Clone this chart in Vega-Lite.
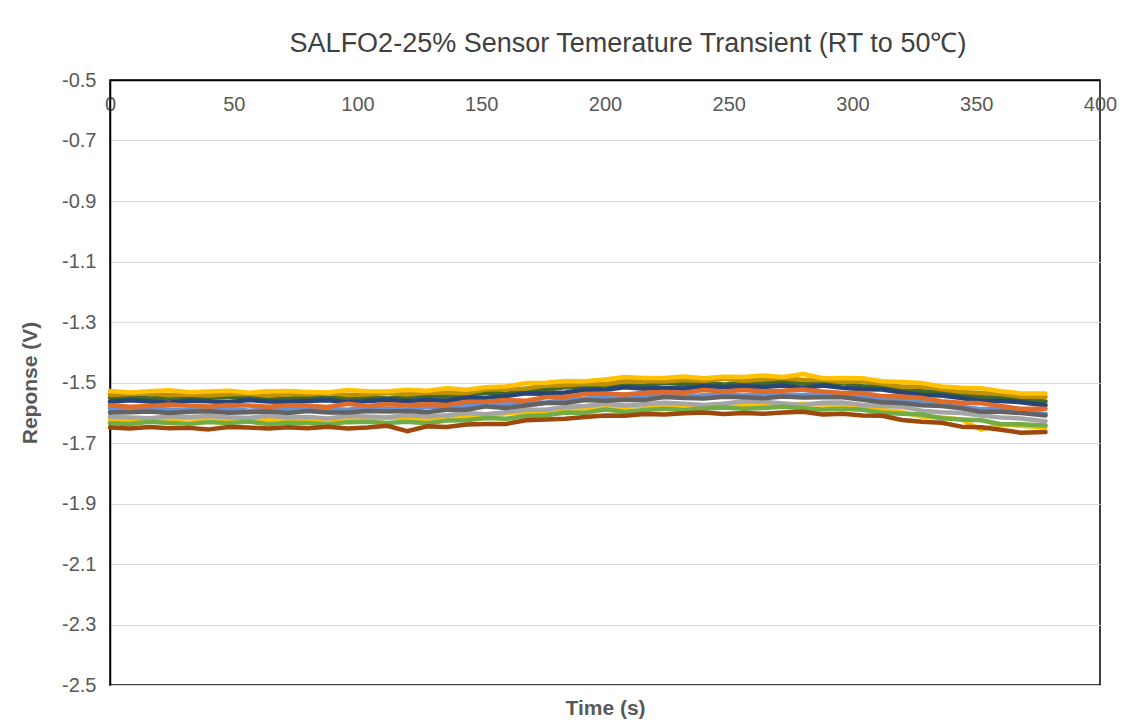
{
"$schema": "https://vega.github.io/schema/vega-lite/v6.json",
"width": 990,
"height": 605,
"autosize": {"type": "none"},
"padding": {"left": 110, "top": 80, "right": 39, "bottom": 41},
"background": "white",
"title": {"text": "SALFO2-25% Sensor Temerature Transient (RT to 50℃)", "font": "Liberation Sans", "fontSize": 27, "fontWeight": "normal", "color": "#404040", "anchor": "middle", "frame": "group", "dx": 23, "dy": 33, "offset": 24, "baseline": "alphabetic"},
"config": {
  "locale": {"number": {"decimal": ".", "thousands": ",", "grouping": [3], "currency": ["$", ""], "minus": "-"}},
  "view": {"stroke": "#000000", "strokeWidth": 1.5},
  "font": "Liberation Sans"
},
"datasets": {"d": [
{"s":"Y2","t":0,"v":-1.622},{"s":"Y2","t":8,"v":-1.625},{"s":"Y2","t":16,"v":-1.620},{"s":"Y2","t":24,"v":-1.623},{"s":"Y2","t":32,"v":-1.618},{"s":"Y2","t":40,"v":-1.624},{"s":"Y2","t":48,"v":-1.625},{"s":"Y2","t":56,"v":-1.621},{"s":"Y2","t":64,"v":-1.622},{"s":"Y2","t":72,"v":-1.619},{"s":"Y2","t":80,"v":-1.626},{"s":"Y2","t":88,"v":-1.623},{"s":"Y2","t":96,"v":-1.619},{"s":"Y2","t":104,"v":-1.623},{"s":"Y2","t":112,"v":-1.616},{"s":"Y2","t":120,"v":-1.619},{"s":"Y2","t":128,"v":-1.621},{"s":"Y2","t":136,"v":-1.614},{"s":"Y2","t":144,"v":-1.614},{"s":"Y2","t":152,"v":-1.614},{"s":"Y2","t":160,"v":-1.602},{"s":"Y2","t":168,"v":-1.600},{"s":"Y2","t":176,"v":-1.594},{"s":"Y2","t":184,"v":-1.594},{"s":"Y2","t":192,"v":-1.584},{"s":"Y2","t":200,"v":-1.586},{"s":"Y2","t":208,"v":-1.581},{"s":"Y2","t":216,"v":-1.576},{"s":"Y2","t":224,"v":-1.583},{"s":"Y2","t":232,"v":-1.575},{"s":"Y2","t":240,"v":-1.577},{"s":"Y2","t":248,"v":-1.570},{"s":"Y2","t":256,"v":-1.574},{"s":"Y2","t":264,"v":-1.572},{"s":"Y2","t":272,"v":-1.575},{"s":"Y2","t":280,"v":-1.570},{"s":"Y2","t":288,"v":-1.573},{"s":"Y2","t":296,"v":-1.581},{"s":"Y2","t":304,"v":-1.579},{"s":"Y2","t":312,"v":-1.591},{"s":"Y2","t":320,"v":-1.597},{"s":"Y2","t":328,"v":-1.613},{"s":"Y2","t":336,"v":-1.616},{"s":"Y2","t":344,"v":-1.622},{"s":"Y2","t":352,"v":-1.656},{"s":"Y2","t":360,"v":-1.638},{"s":"Y2","t":368,"v":-1.643},{"s":"Y2","t":378,"v":-1.649},
{"s":"Gr","t":0,"v":-1.613},{"s":"Gr","t":8,"v":-1.616},{"s":"Gr","t":16,"v":-1.618},{"s":"Gr","t":24,"v":-1.612},{"s":"Gr","t":32,"v":-1.614},{"s":"Gr","t":40,"v":-1.611},{"s":"Gr","t":48,"v":-1.615},{"s":"Gr","t":56,"v":-1.617},{"s":"Gr","t":64,"v":-1.610},{"s":"Gr","t":72,"v":-1.616},{"s":"Gr","t":80,"v":-1.614},{"s":"Gr","t":88,"v":-1.619},{"s":"Gr","t":96,"v":-1.611},{"s":"Gr","t":104,"v":-1.612},{"s":"Gr","t":112,"v":-1.615},{"s":"Gr","t":120,"v":-1.608},{"s":"Gr","t":128,"v":-1.612},{"s":"Gr","t":136,"v":-1.608},{"s":"Gr","t":144,"v":-1.601},{"s":"Gr","t":152,"v":-1.605},{"s":"Gr","t":160,"v":-1.598},{"s":"Gr","t":168,"v":-1.590},{"s":"Gr","t":176,"v":-1.590},{"s":"Gr","t":184,"v":-1.581},{"s":"Gr","t":192,"v":-1.578},{"s":"Gr","t":200,"v":-1.570},{"s":"Gr","t":208,"v":-1.576},{"s":"Gr","t":216,"v":-1.572},{"s":"Gr","t":224,"v":-1.567},{"s":"Gr","t":232,"v":-1.570},{"s":"Gr","t":240,"v":-1.574},{"s":"Gr","t":248,"v":-1.570},{"s":"Gr","t":256,"v":-1.562},{"s":"Gr","t":264,"v":-1.564},{"s":"Gr","t":272,"v":-1.569},{"s":"Gr","t":280,"v":-1.574},{"s":"Gr","t":288,"v":-1.567},{"s":"Gr","t":296,"v":-1.566},{"s":"Gr","t":304,"v":-1.574},{"s":"Gr","t":312,"v":-1.578},{"s":"Gr","t":320,"v":-1.580},{"s":"Gr","t":328,"v":-1.593},{"s":"Gr","t":336,"v":-1.598},{"s":"Gr","t":344,"v":-1.601},{"s":"Gr","t":352,"v":-1.609},{"s":"Gr","t":360,"v":-1.616},{"s":"Gr","t":368,"v":-1.619},{"s":"Gr","t":378,"v":-1.628},
{"s":"LB","t":0,"v":-1.586},{"s":"LB","t":8,"v":-1.590},{"s":"LB","t":16,"v":-1.587},{"s":"LB","t":24,"v":-1.589},{"s":"LB","t":32,"v":-1.591},{"s":"LB","t":40,"v":-1.588},{"s":"LB","t":48,"v":-1.586},{"s":"LB","t":56,"v":-1.593},{"s":"LB","t":64,"v":-1.589},{"s":"LB","t":72,"v":-1.587},{"s":"LB","t":80,"v":-1.592},{"s":"LB","t":88,"v":-1.588},{"s":"LB","t":96,"v":-1.590},{"s":"LB","t":104,"v":-1.583},{"s":"LB","t":112,"v":-1.587},{"s":"LB","t":120,"v":-1.589},{"s":"LB","t":128,"v":-1.581},{"s":"LB","t":136,"v":-1.584},{"s":"LB","t":144,"v":-1.578},{"s":"LB","t":152,"v":-1.578},{"s":"LB","t":160,"v":-1.571},{"s":"LB","t":168,"v":-1.564},{"s":"LB","t":176,"v":-1.567},{"s":"LB","t":184,"v":-1.557},{"s":"LB","t":192,"v":-1.554},{"s":"LB","t":200,"v":-1.547},{"s":"LB","t":208,"v":-1.550},{"s":"LB","t":216,"v":-1.545},{"s":"LB","t":224,"v":-1.540},{"s":"LB","t":232,"v":-1.547},{"s":"LB","t":240,"v":-1.542},{"s":"LB","t":248,"v":-1.539},{"s":"LB","t":256,"v":-1.543},{"s":"LB","t":264,"v":-1.536},{"s":"LB","t":272,"v":-1.540},{"s":"LB","t":280,"v":-1.541},{"s":"LB","t":288,"v":-1.536},{"s":"LB","t":296,"v":-1.544},{"s":"LB","t":304,"v":-1.546},{"s":"LB","t":312,"v":-1.557},{"s":"LB","t":320,"v":-1.557},{"s":"LB","t":328,"v":-1.565},{"s":"LB","t":336,"v":-1.576},{"s":"LB","t":344,"v":-1.580},{"s":"LB","t":352,"v":-1.588},{"s":"LB","t":360,"v":-1.588},{"s":"LB","t":368,"v":-1.595},{"s":"LB","t":378,"v":-1.604},
{"s":"DGr","t":0,"v":-1.599},{"s":"DGr","t":8,"v":-1.598},{"s":"DGr","t":16,"v":-1.596},{"s":"DGr","t":24,"v":-1.601},{"s":"DGr","t":32,"v":-1.597},{"s":"DGr","t":40,"v":-1.595},{"s":"DGr","t":48,"v":-1.600},{"s":"DGr","t":56,"v":-1.598},{"s":"DGr","t":64,"v":-1.596},{"s":"DGr","t":72,"v":-1.601},{"s":"DGr","t":80,"v":-1.594},{"s":"DGr","t":88,"v":-1.599},{"s":"DGr","t":96,"v":-1.599},{"s":"DGr","t":104,"v":-1.594},{"s":"DGr","t":112,"v":-1.596},{"s":"DGr","t":120,"v":-1.594},{"s":"DGr","t":128,"v":-1.598},{"s":"DGr","t":136,"v":-1.590},{"s":"DGr","t":144,"v":-1.590},{"s":"DGr","t":152,"v":-1.579},{"s":"DGr","t":160,"v":-1.584},{"s":"DGr","t":168,"v":-1.576},{"s":"DGr","t":176,"v":-1.568},{"s":"DGr","t":184,"v":-1.568},{"s":"DGr","t":192,"v":-1.558},{"s":"DGr","t":200,"v":-1.560},{"s":"DGr","t":208,"v":-1.557},{"s":"DGr","t":216,"v":-1.558},{"s":"DGr","t":224,"v":-1.548},{"s":"DGr","t":232,"v":-1.551},{"s":"DGr","t":240,"v":-1.553},{"s":"DGr","t":248,"v":-1.547},{"s":"DGr","t":256,"v":-1.549},{"s":"DGr","t":264,"v":-1.552},{"s":"DGr","t":272,"v":-1.546},{"s":"DGr","t":280,"v":-1.550},{"s":"DGr","t":288,"v":-1.549},{"s":"DGr","t":296,"v":-1.549},{"s":"DGr","t":304,"v":-1.557},{"s":"DGr","t":312,"v":-1.565},{"s":"DGr","t":320,"v":-1.568},{"s":"DGr","t":328,"v":-1.575},{"s":"DGr","t":336,"v":-1.578},{"s":"DGr","t":344,"v":-1.585},{"s":"DGr","t":352,"v":-1.597},{"s":"DGr","t":360,"v":-1.597},{"s":"DGr","t":368,"v":-1.601},{"s":"DGr","t":378,"v":-1.609},
{"s":"Gn","t":0,"v":-1.635},{"s":"Gn","t":8,"v":-1.637},{"s":"Gn","t":16,"v":-1.630},{"s":"Gn","t":24,"v":-1.634},{"s":"Gn","t":32,"v":-1.636},{"s":"Gn","t":40,"v":-1.631},{"s":"Gn","t":48,"v":-1.635},{"s":"Gn","t":56,"v":-1.629},{"s":"Gn","t":64,"v":-1.637},{"s":"Gn","t":72,"v":-1.633},{"s":"Gn","t":80,"v":-1.634},{"s":"Gn","t":88,"v":-1.638},{"s":"Gn","t":96,"v":-1.631},{"s":"Gn","t":104,"v":-1.630},{"s":"Gn","t":112,"v":-1.634},{"s":"Gn","t":120,"v":-1.630},{"s":"Gn","t":128,"v":-1.635},{"s":"Gn","t":136,"v":-1.626},{"s":"Gn","t":144,"v":-1.625},{"s":"Gn","t":152,"v":-1.617},{"s":"Gn","t":160,"v":-1.620},{"s":"Gn","t":168,"v":-1.611},{"s":"Gn","t":176,"v":-1.608},{"s":"Gn","t":184,"v":-1.599},{"s":"Gn","t":192,"v":-1.600},{"s":"Gn","t":200,"v":-1.589},{"s":"Gn","t":208,"v":-1.597},{"s":"Gn","t":216,"v":-1.591},{"s":"Gn","t":224,"v":-1.587},{"s":"Gn","t":232,"v":-1.591},{"s":"Gn","t":240,"v":-1.586},{"s":"Gn","t":248,"v":-1.583},{"s":"Gn","t":256,"v":-1.587},{"s":"Gn","t":264,"v":-1.584},{"s":"Gn","t":272,"v":-1.580},{"s":"Gn","t":280,"v":-1.585},{"s":"Gn","t":288,"v":-1.589},{"s":"Gn","t":296,"v":-1.587},{"s":"Gn","t":304,"v":-1.590},{"s":"Gn","t":312,"v":-1.600},{"s":"Gn","t":320,"v":-1.603},{"s":"Gn","t":328,"v":-1.606},{"s":"Gn","t":336,"v":-1.618},{"s":"Gn","t":344,"v":-1.622},{"s":"Gn","t":352,"v":-1.625},{"s":"Gn","t":360,"v":-1.638},{"s":"Gn","t":368,"v":-1.638},{"s":"Gn","t":378,"v":-1.642},
{"s":"DG","t":0,"v":-1.551},{"s":"DG","t":8,"v":-1.548},{"s":"DG","t":16,"v":-1.553},{"s":"DG","t":24,"v":-1.550},{"s":"DG","t":32,"v":-1.555},{"s":"DG","t":40,"v":-1.549},{"s":"DG","t":48,"v":-1.548},{"s":"DG","t":56,"v":-1.552},{"s":"DG","t":64,"v":-1.551},{"s":"DG","t":72,"v":-1.554},{"s":"DG","t":80,"v":-1.547},{"s":"DG","t":88,"v":-1.550},{"s":"DG","t":96,"v":-1.552},{"s":"DG","t":104,"v":-1.548},{"s":"DG","t":112,"v":-1.553},{"s":"DG","t":120,"v":-1.548},{"s":"DG","t":128,"v":-1.544},{"s":"DG","t":136,"v":-1.547},{"s":"DG","t":144,"v":-1.541},{"s":"DG","t":152,"v":-1.533},{"s":"DG","t":160,"v":-1.537},{"s":"DG","t":168,"v":-1.529},{"s":"DG","t":176,"v":-1.525},{"s":"DG","t":184,"v":-1.515},{"s":"DG","t":192,"v":-1.517},{"s":"DG","t":200,"v":-1.509},{"s":"DG","t":208,"v":-1.510},{"s":"DG","t":216,"v":-1.511},{"s":"DG","t":224,"v":-1.500},{"s":"DG","t":232,"v":-1.506},{"s":"DG","t":240,"v":-1.502},{"s":"DG","t":248,"v":-1.507},{"s":"DG","t":256,"v":-1.501},{"s":"DG","t":264,"v":-1.501},{"s":"DG","t":272,"v":-1.498},{"s":"DG","t":280,"v":-1.503},{"s":"DG","t":288,"v":-1.504},{"s":"DG","t":296,"v":-1.502},{"s":"DG","t":304,"v":-1.512},{"s":"DG","t":312,"v":-1.513},{"s":"DG","t":320,"v":-1.521},{"s":"DG","t":328,"v":-1.529},{"s":"DG","t":336,"v":-1.531},{"s":"DG","t":344,"v":-1.539},{"s":"DG","t":352,"v":-1.549},{"s":"DG","t":360,"v":-1.549},{"s":"DG","t":368,"v":-1.557},{"s":"DG","t":378,"v":-1.563},
{"s":"DB","t":0,"v":-1.564},{"s":"DB","t":8,"v":-1.559},{"s":"DB","t":16,"v":-1.563},{"s":"DB","t":24,"v":-1.566},{"s":"DB","t":32,"v":-1.560},{"s":"DB","t":40,"v":-1.562},{"s":"DB","t":48,"v":-1.565},{"s":"DB","t":56,"v":-1.558},{"s":"DB","t":64,"v":-1.563},{"s":"DB","t":72,"v":-1.564},{"s":"DB","t":80,"v":-1.561},{"s":"DB","t":88,"v":-1.559},{"s":"DB","t":96,"v":-1.565},{"s":"DB","t":104,"v":-1.561},{"s":"DB","t":112,"v":-1.558},{"s":"DB","t":120,"v":-1.562},{"s":"DB","t":128,"v":-1.557},{"s":"DB","t":136,"v":-1.561},{"s":"DB","t":144,"v":-1.550},{"s":"DB","t":152,"v":-1.550},{"s":"DB","t":160,"v":-1.545},{"s":"DB","t":168,"v":-1.536},{"s":"DB","t":176,"v":-1.537},{"s":"DB","t":184,"v":-1.533},{"s":"DB","t":192,"v":-1.524},{"s":"DB","t":200,"v":-1.524},{"s":"DB","t":208,"v":-1.516},{"s":"DB","t":216,"v":-1.521},{"s":"DB","t":224,"v":-1.517},{"s":"DB","t":232,"v":-1.520},{"s":"DB","t":240,"v":-1.512},{"s":"DB","t":248,"v":-1.515},{"s":"DB","t":256,"v":-1.512},{"s":"DB","t":264,"v":-1.515},{"s":"DB","t":272,"v":-1.510},{"s":"DB","t":280,"v":-1.518},{"s":"DB","t":288,"v":-1.510},{"s":"DB","t":296,"v":-1.517},{"s":"DB","t":304,"v":-1.522},{"s":"DB","t":312,"v":-1.523},{"s":"DB","t":320,"v":-1.533},{"s":"DB","t":328,"v":-1.541},{"s":"DB","t":336,"v":-1.543},{"s":"DB","t":344,"v":-1.551},{"s":"DB","t":352,"v":-1.561},{"s":"DB","t":360,"v":-1.561},{"s":"DB","t":368,"v":-1.565},{"s":"DB","t":378,"v":-1.575},
{"s":"O","t":0,"v":-1.575},{"s":"O","t":8,"v":-1.580},{"s":"O","t":16,"v":-1.578},{"s":"O","t":24,"v":-1.573},{"s":"O","t":32,"v":-1.577},{"s":"O","t":40,"v":-1.579},{"s":"O","t":48,"v":-1.574},{"s":"O","t":56,"v":-1.576},{"s":"O","t":64,"v":-1.580},{"s":"O","t":72,"v":-1.575},{"s":"O","t":80,"v":-1.577},{"s":"O","t":88,"v":-1.581},{"s":"O","t":96,"v":-1.570},{"s":"O","t":104,"v":-1.578},{"s":"O","t":112,"v":-1.572},{"s":"O","t":120,"v":-1.575},{"s":"O","t":128,"v":-1.572},{"s":"O","t":136,"v":-1.574},{"s":"O","t":144,"v":-1.564},{"s":"O","t":152,"v":-1.564},{"s":"O","t":160,"v":-1.558},{"s":"O","t":168,"v":-1.560},{"s":"O","t":176,"v":-1.549},{"s":"O","t":184,"v":-1.547},{"s":"O","t":192,"v":-1.538},{"s":"O","t":200,"v":-1.536},{"s":"O","t":208,"v":-1.540},{"s":"O","t":216,"v":-1.534},{"s":"O","t":224,"v":-1.531},{"s":"O","t":232,"v":-1.534},{"s":"O","t":240,"v":-1.525},{"s":"O","t":248,"v":-1.530},{"s":"O","t":256,"v":-1.525},{"s":"O","t":264,"v":-1.529},{"s":"O","t":272,"v":-1.527},{"s":"O","t":280,"v":-1.523},{"s":"O","t":288,"v":-1.530},{"s":"O","t":296,"v":-1.535},{"s":"O","t":304,"v":-1.535},{"s":"O","t":312,"v":-1.545},{"s":"O","t":320,"v":-1.546},{"s":"O","t":328,"v":-1.551},{"s":"O","t":336,"v":-1.562},{"s":"O","t":344,"v":-1.567},{"s":"O","t":352,"v":-1.569},{"s":"O","t":360,"v":-1.578},{"s":"O","t":368,"v":-1.587},{"s":"O","t":378,"v":-1.587},
{"s":"G","t":0,"v":-1.541},{"s":"G","t":8,"v":-1.538},{"s":"G","t":16,"v":-1.536},{"s":"G","t":24,"v":-1.542},{"s":"G","t":32,"v":-1.540},{"s":"G","t":40,"v":-1.543},{"s":"G","t":48,"v":-1.539},{"s":"G","t":56,"v":-1.537},{"s":"G","t":64,"v":-1.544},{"s":"G","t":72,"v":-1.538},{"s":"G","t":80,"v":-1.540},{"s":"G","t":88,"v":-1.535},{"s":"G","t":96,"v":-1.541},{"s":"G","t":104,"v":-1.540},{"s":"G","t":112,"v":-1.535},{"s":"G","t":120,"v":-1.540},{"s":"G","t":128,"v":-1.534},{"s":"G","t":136,"v":-1.534},{"s":"G","t":144,"v":-1.535},{"s":"G","t":152,"v":-1.523},{"s":"G","t":160,"v":-1.522},{"s":"G","t":168,"v":-1.520},{"s":"G","t":176,"v":-1.510},{"s":"G","t":184,"v":-1.509},{"s":"G","t":192,"v":-1.504},{"s":"G","t":200,"v":-1.506},{"s":"G","t":208,"v":-1.496},{"s":"G","t":216,"v":-1.496},{"s":"G","t":224,"v":-1.497},{"s":"G","t":232,"v":-1.492},{"s":"G","t":240,"v":-1.494},{"s":"G","t":248,"v":-1.488},{"s":"G","t":256,"v":-1.494},{"s":"G","t":264,"v":-1.490},{"s":"G","t":272,"v":-1.485},{"s":"G","t":280,"v":-1.492},{"s":"G","t":288,"v":-1.491},{"s":"G","t":296,"v":-1.498},{"s":"G","t":304,"v":-1.496},{"s":"G","t":312,"v":-1.504},{"s":"G","t":320,"v":-1.514},{"s":"G","t":328,"v":-1.513},{"s":"G","t":336,"v":-1.522},{"s":"G","t":344,"v":-1.531},{"s":"G","t":352,"v":-1.535},{"s":"G","t":360,"v":-1.538},{"s":"G","t":368,"v":-1.547},{"s":"G","t":378,"v":-1.548},
{"s":"Y","t":0,"v":-1.528},{"s":"Y","t":8,"v":-1.533},{"s":"Y","t":16,"v":-1.529},{"s":"Y","t":24,"v":-1.526},{"s":"Y","t":32,"v":-1.532},{"s":"Y","t":40,"v":-1.530},{"s":"Y","t":48,"v":-1.527},{"s":"Y","t":56,"v":-1.534},{"s":"Y","t":64,"v":-1.529},{"s":"Y","t":72,"v":-1.528},{"s":"Y","t":80,"v":-1.531},{"s":"Y","t":88,"v":-1.533},{"s":"Y","t":96,"v":-1.525},{"s":"Y","t":104,"v":-1.529},{"s":"Y","t":112,"v":-1.530},{"s":"Y","t":120,"v":-1.524},{"s":"Y","t":128,"v":-1.527},{"s":"Y","t":136,"v":-1.519},{"s":"Y","t":144,"v":-1.524},{"s":"Y","t":152,"v":-1.516},{"s":"Y","t":160,"v":-1.513},{"s":"Y","t":168,"v":-1.502},{"s":"Y","t":176,"v":-1.501},{"s":"Y","t":184,"v":-1.495},{"s":"Y","t":192,"v":-1.496},{"s":"Y","t":200,"v":-1.490},{"s":"Y","t":208,"v":-1.482},{"s":"Y","t":216,"v":-1.485},{"s":"Y","t":224,"v":-1.485},{"s":"Y","t":232,"v":-1.480},{"s":"Y","t":240,"v":-1.486},{"s":"Y","t":248,"v":-1.481},{"s":"Y","t":256,"v":-1.482},{"s":"Y","t":264,"v":-1.477},{"s":"Y","t":272,"v":-1.482},{"s":"Y","t":280,"v":-1.472},{"s":"Y","t":288,"v":-1.486},{"s":"Y","t":296,"v":-1.485},{"s":"Y","t":304,"v":-1.486},{"s":"Y","t":312,"v":-1.496},{"s":"Y","t":320,"v":-1.498},{"s":"Y","t":328,"v":-1.502},{"s":"Y","t":336,"v":-1.513},{"s":"Y","t":344,"v":-1.517},{"s":"Y","t":352,"v":-1.519},{"s":"Y","t":360,"v":-1.529},{"s":"Y","t":368,"v":-1.536},{"s":"Y","t":378,"v":-1.536},
{"s":"Br","t":0,"v":-1.649},{"s":"Br","t":8,"v":-1.652},{"s":"Br","t":16,"v":-1.647},{"s":"Br","t":24,"v":-1.651},{"s":"Br","t":32,"v":-1.650},{"s":"Br","t":40,"v":-1.655},{"s":"Br","t":48,"v":-1.647},{"s":"Br","t":56,"v":-1.649},{"s":"Br","t":64,"v":-1.652},{"s":"Br","t":72,"v":-1.648},{"s":"Br","t":80,"v":-1.651},{"s":"Br","t":88,"v":-1.646},{"s":"Br","t":96,"v":-1.652},{"s":"Br","t":104,"v":-1.649},{"s":"Br","t":112,"v":-1.643},{"s":"Br","t":120,"v":-1.661},{"s":"Br","t":128,"v":-1.645},{"s":"Br","t":136,"v":-1.647},{"s":"Br","t":144,"v":-1.639},{"s":"Br","t":152,"v":-1.637},{"s":"Br","t":160,"v":-1.637},{"s":"Br","t":168,"v":-1.625},{"s":"Br","t":176,"v":-1.622},{"s":"Br","t":184,"v":-1.620},{"s":"Br","t":192,"v":-1.614},{"s":"Br","t":200,"v":-1.609},{"s":"Br","t":208,"v":-1.610},{"s":"Br","t":216,"v":-1.604},{"s":"Br","t":224,"v":-1.606},{"s":"Br","t":232,"v":-1.602},{"s":"Br","t":240,"v":-1.599},{"s":"Br","t":248,"v":-1.604},{"s":"Br","t":256,"v":-1.601},{"s":"Br","t":264,"v":-1.603},{"s":"Br","t":272,"v":-1.599},{"s":"Br","t":280,"v":-1.597},{"s":"Br","t":288,"v":-1.606},{"s":"Br","t":296,"v":-1.603},{"s":"Br","t":304,"v":-1.609},{"s":"Br","t":312,"v":-1.610},{"s":"Br","t":320,"v":-1.624},{"s":"Br","t":328,"v":-1.630},{"s":"Br","t":336,"v":-1.633},{"s":"Br","t":344,"v":-1.646},{"s":"Br","t":352,"v":-1.648},{"s":"Br","t":360,"v":-1.656},{"s":"Br","t":368,"v":-1.666},{"s":"Br","t":378,"v":-1.664}
]},
"data": {"name": "d"},
"mark": {"type": "line", "strokeWidth": 4.5, "strokeJoin": "round", "strokeCap": "round"},
"encoding": {
  "x": {"field": "t", "type": "quantitative",
    "scale": {"domain": [0, 400], "nice": false, "zero": false},
    "axis": {"orient": "bottom", "offset": -605, "values": [0, 50, 100, 150, 200, 250, 300, 350, 400], "grid": false, "ticks": false, "domain": true, "domainColor": "#000000", "domainWidth": 1.5, "labelFontSize": 20, "labelColor": "#595959", "labelPadding": 14, "labelFlush": false, "labelOverlap": false, "title": "Time (s)", "titleY": 628, "titleBaseline": "middle", "titleFontSize": 21, "titleFontWeight": "bold", "titleColor": "#595959"}},
  "y": {"field": "v", "type": "quantitative",
    "scale": {"domain": [-2.5, -0.5], "nice": false, "zero": false},
    "axis": {"values": [-0.5, -0.7, -0.9, -1.1, -1.3, -1.5, -1.7, -1.9, -2.1, -2.3, -2.5], "format": ".1f", "grid": true, "gridColor": "#D9D9D9", "gridWidth": 1, "ticks": false, "domainColor": "#000000", "domainWidth": 1.5, "labelFontSize": 20, "labelColor": "#595959", "labelPadding": 14, "labelFlush": false, "labelOverlap": false, "title": "Reponse (V)", "titleX": -80, "titleBaseline": "middle", "titleFontSize": 21, "titleFontWeight": "bold", "titleColor": "#595959"}},
  "color": {"field": "s", "type": "nominal",
    "scale": {"domain": ["Y2", "Gr", "LB", "DGr", "Gn", "DG", "DB", "O", "G", "Y", "Br"],
              "range": ["#FFC000", "#A5A5A5", "#6890D4", "#636363", "#70AD47", "#43682B", "#264478", "#E06A28", "#BF9000", "#FFC000", "#9E480E"]},
    "legend": null}
}
}
